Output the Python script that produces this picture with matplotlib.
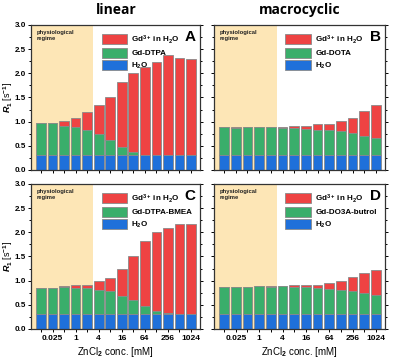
import numpy as np
import matplotlib
matplotlib.use('Agg')
import matplotlib.pyplot as plt
from matplotlib.patches import Patch
from matplotlib.ticker import MultipleLocator

plt.rcParams['font.family'] = ['Liberation Sans', 'DejaVu Sans']
plt.rcParams['font.weight'] = 'bold'
plt.rcParams['mathtext.fontset'] = 'custom'
plt.rcParams['mathtext.rm'] = 'Liberation Sans:bold'
plt.rcParams['mathtext.bf'] = 'Liberation Sans:bold'
plt.rcParams['mathtext.it'] = 'Liberation Sans:bold:italic'
plt.rcParams['mathtext.default'] = 'rm'

# ZnCl2 concentration steps (14 bars); only some are labelled
x_labels = ['', '0.025', '', '1', '', '4', '', '16', '', '64', '', '256', '', '1024']

# H2O baseline (same for every bar)
h2o = [0.31] * 14

# Gd-complex top (blue + green) and total height (blue + green + red) per panel
a_green = [0.97, 0.98, 0.92, 0.88, 0.83, 0.74, 0.63, 0.48, 0.37, 0.31, 0.31, 0.31, 0.31, 0.31]
a_total = [0.97, 0.98, 1.01, 1.08, 1.19, 1.34, 1.52, 1.81, 2.00, 2.14, 2.23, 2.37, 2.32, 2.30]

b_green = [0.88, 0.87, 0.88, 0.88, 0.88, 0.87, 0.86, 0.84, 0.82, 0.83, 0.80, 0.77, 0.71, 0.66]
b_total = [0.88, 0.89, 0.88, 0.89, 0.89, 0.89, 0.90, 0.92, 0.96, 0.95, 1.01, 1.08, 1.22, 1.34]

c_green = [0.85, 0.85, 0.86, 0.85, 0.84, 0.81, 0.78, 0.68, 0.59, 0.47, 0.37, 0.34, 0.31, 0.31]
c_total = [0.85, 0.85, 0.89, 0.91, 0.91, 1.00, 1.05, 1.24, 1.51, 1.81, 2.00, 2.09, 2.18, 2.17]

d_green = [0.87, 0.87, 0.87, 0.88, 0.87, 0.88, 0.87, 0.86, 0.85, 0.83, 0.81, 0.78, 0.75, 0.70]
d_total = [0.87, 0.87, 0.87, 0.88, 0.885, 0.88, 0.90, 0.90, 0.92, 0.95, 1.00, 1.07, 1.16, 1.22]

panels = [
    ('A', 'Gd-DTPA', a_green, a_total),
    ('B', 'Gd-DOTA', b_green, b_total),
    ('C', 'Gd-DTPA-BMEA', c_green, c_total),
    ('D', 'Gd-DO3A-butrol', d_green, d_total),
]

RED = '#ee4343'
GREEN = '#3aae6b'
BLUE = '#1f70da'
SHADE = '#fde6b6'
EDGE = '#8a8a8a'

fig = plt.figure(figsize=(4.0, 3.59), dpi=100)
pos = {
    'A': [0.0775, 0.5265, 0.4225, 0.404],
    'B': [0.535, 0.5265, 0.4275, 0.404],
    'C': [0.0775, 0.0836, 0.4225, 0.404],
    'D': [0.535, 0.0836, 0.4275, 0.404],
}

x = np.arange(1, 15)
for letter, label, green, total in panels:
    ax = fig.add_axes(pos[letter])
    green = np.array(green)
    total = np.array(total)
    base = np.array(h2o)
    ax.axvspan(0.13, 5.5, color=SHADE, lw=0, zorder=0)
    w = 0.84
    ax.bar(x, total - green, bottom=green, width=w, color=RED, edgecolor=EDGE, lw=0.6, zorder=2)
    ax.bar(x, green - base, bottom=base, width=w, color=GREEN, edgecolor=EDGE, lw=0.6, zorder=2)
    ax.bar(x, base, width=w, color=BLUE, edgecolor=EDGE, lw=0.6, zorder=2)

    ax.set_xlim(0.13, 14.78)
    ax.set_ylim(0, 3.0)
    ax.yaxis.set_major_locator(MultipleLocator(0.5))
    ax.yaxis.set_minor_locator(MultipleLocator(0.25))
    ax.set_xticks(x)
    ax.tick_params(axis='x', length=2.5, width=0.7, direction='out', labelsize=6, pad=2)
    ax.tick_params(axis='y', which='both', direction='out', width=0.7, labelsize=5.8, pad=1,
                   right=True)
    ax.tick_params(axis='y', which='major', length=2.5)
    ax.tick_params(axis='y', which='minor', length=1.5)
    for sp in ax.spines.values():
        sp.set_linewidth(0.9)
        sp.set_color('#333333')

    left = letter in ('A', 'C')
    bottom = letter in ('C', 'D')
    if left:
        ax.set_yticklabels([f'{v:.1f}' for v in ax.get_yticks()])
        ax.set_ylabel(r'$\mathit{R}_{1}$ [s$^{-1}$]', fontsize=6.5)
        ax.yaxis.set_label_coords(-0.093, 0.5)
    else:
        ax.set_yticklabels([])
    if bottom:
        ax.set_xticklabels(x_labels)
        ax.set_xlabel(r'ZnCl$_{2}$ conc. [mM]', fontsize=7)
        ax.xaxis.set_label_coords(0.5, -0.11)
    else:
        ax.set_xticklabels([])

    ax.text(0.035, 0.965, 'physiological\nregime', transform=ax.transAxes, fontsize=4.2,
            fontweight='bold', va='top', ha='left', color='#222222', linespacing=1.3)
    ax.text(0.975, 0.965, letter, transform=ax.transAxes, fontsize=11,
            fontweight='bold', va='top', ha='right')

    handles = [Patch(facecolor=RED, edgecolor=EDGE, lw=0.6),
               Patch(facecolor=GREEN, edgecolor=EDGE, lw=0.6),
               Patch(facecolor=BLUE, edgecolor=EDGE, lw=0.6)]
    labels = [r'Gd$^{3+}$ in H$_{2}$O', label, r'H$_{2}$O']
    ax.legend(handles, labels, loc='upper left', bbox_to_anchor=(0.37, 1.0), frameon=False,
              fontsize=5.8, handlelength=3.2, handleheight=1.6, handletextpad=0.5,
              labelspacing=0.25, borderpad=0.5)

fig.text(0.29, 0.972, 'linear', ha='center', va='center', fontsize=10, fontweight='bold',
         family=['Open Sans', 'DejaVu Sans'])
fig.text(0.75, 0.972, 'macrocyclic', ha='center', va='center', fontsize=10, fontweight='bold',
         family=['Open Sans', 'DejaVu Sans'])

fig.savefig('out.png', dpi=100)
